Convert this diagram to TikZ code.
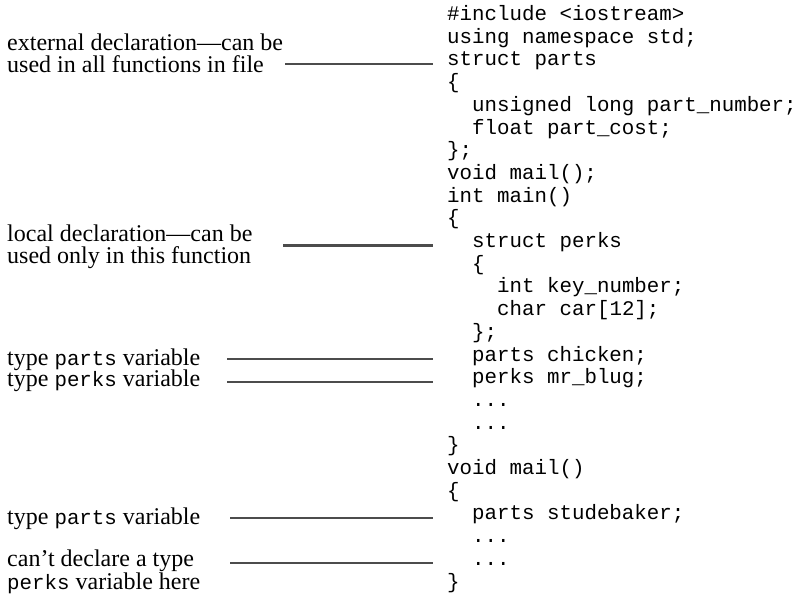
\documentclass[tikz,border=0pt]{standalone}
\usepackage{fontspec}
\setmainfont{Liberation Serif}
\newfontfamily\codefont{Liberation Mono}
\usepackage{tikz}
\usetikzlibrary{positioning}
\tikzstyle{line} = [draw=black!70, line width=2.2pt]
\tikzstyle{code} = [anchor=base west, inner sep=0pt, font=\codefont\fontsize{20.8}{22.7}\selectfont]
\tikzstyle{note} = [anchor=west, inner sep=0pt, align=left, font=\fontsize{24}{22.5}\selectfont]
\newcommand{\kw}[1]{{\codefont\fontsize{20.8}{22.5}\selectfont #1}}

\begin{document}
\begin{tikzpicture}[x=1pt, y=-1pt]
		\useasboundingbox (0,0) rectangle (805,595);
		% code column
		\node [code] (inc) at (447, 20.5) {\#include <iostream>};
		\node [code] (usingns) at (447, 43.2) {using namespace std;};
		\node [code] (structparts) at (447, 65.9) {struct parts};
		\node [code] (ob1) at (447, 88.6) {\{};
		\node [code] (pnum) at (472, 111.3) {unsigned long part\_number;};
		\node [code] (pcost) at (472, 134) {float part\_cost;};
		\node [code] (cb1) at (447, 156.7) {\};};
		\node [code] (mailproto) at (447, 179.4) {void mail();};
		\node [code] (intmain) at (447, 202.1) {int main()};
		\node [code] (ob2) at (447, 224.8) {\{};
		\node [code] (structperks) at (472, 247.5) {struct perks};
		\node [code] (ob3) at (472, 270.2) {\{};
		\node [code] (keynum) at (497, 292.9) {int key\_number;};
		\node [code] (car) at (497, 315.6) {char car[12];};
		\node [code] (cb3) at (472, 338.3) {\};};
		\node [code] (chicken) at (472, 361) {parts chicken;};
		\node [code] (blug) at (472, 383.7) {perks mr\_blug;};
		\node [code] (dots1) at (472, 406.4) {...};
		\node [code] (dots2) at (472, 429.1) {...};
		\node [code] (cb2) at (447, 451.8) {\}};
		\node [code] (maildef) at (447, 474.5) {void mail()};
		\node [code] (ob4) at (447, 497.2) {\{};
		\node [code] (studebaker) at (472, 519.9) {parts studebaker;};
		\node [code] (dots3) at (472, 542.6) {...};
		\node [code] (dots4) at (472, 565.3) {...};
		\node [code] (cb4) at (447, 588) {\}};
		
		% notes
		\node [note] (extdecl) at (7, 53.5) {external declaration—can be\\used in all functions in file};
		\node [note] (localdecl) at (7, 247) {local declaration—can be\\used only in this function};
		\node [note] (typeparts) at (7, 360) {type \kw{parts} variable};
		\node [note] (typeperks) at (7, 381) {type \kw{perks} variable};
		\node [note] (typeparts2) at (7, 519) {type \kw{parts} variable};
		\node [note] (nodecl) at (7, 572) {can’t declare a type\\\kw{perks} variable here};
		
		% leader lines
		\coordinate (colx) at (433, 0);
		\coordinate (ext_start) at (285, 0);
		\coordinate (local_start) at (283, 0);
		\coordinate (var_start) at (227, 0);
		\coordinate (mail_start) at (230, 0);
		\path [line] ([yshift=2pt]ext_start |- structparts.base) to ([yshift=2pt]colx |- structparts.base);
		\path [line] ([yshift=2pt]local_start |- structperks.base) to ([yshift=2pt]colx |- structperks.base);
		\path [line] ([yshift=2pt]var_start |- chicken.base) to ([yshift=2pt]colx |- chicken.base);
		\path [line] ([yshift=2pt]var_start |- blug.base) to ([yshift=2pt]colx |- blug.base);
		\path [line] ([yshift=2pt]mail_start |- studebaker.base) to ([yshift=2pt]colx |- studebaker.base);
		\path [line] ([yshift=2pt]mail_start |- dots4.base) to ([yshift=2pt]colx |- dots4.base);
		
	\end{tikzpicture}
\end{document}
